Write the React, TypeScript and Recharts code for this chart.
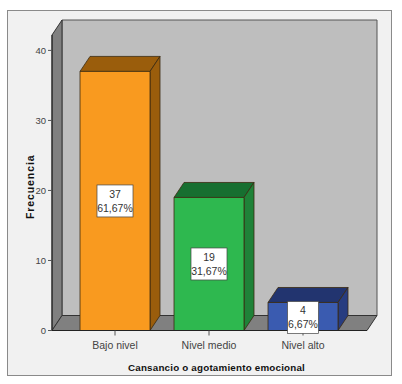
import React from "react";
import { BarChart, Bar, XAxis, YAxis, LabelList, ReferenceArea, Label } from "recharts";

const categories = ["Bajo nivel", "Nivel medio", "Nivel alto"];
const counts = [37, 19, 4];
const percents = ["61,67%", "31,67%", "6,67%"];
const frontColors = ["#f99a1f", "#2eb84f", "#3a5bb0"];
const sideColors = ["#9a5d0c", "#1f8238", "#273c80"];
const topColors = ["#9a5d0c", "#176f30", "#22346f"];
const yTicks = [0, 10, 20, 30, 40];
const yMax = 42.2;

const rows = categories.map((name, i) => ({ name, value: counts[i], percent: percents[i], i }));

const DX = 10;
const DY = -15;
const FONT = "'Liberation Sans', Arial, sans-serif";

const Bar3D = (p: any) => {
  const { x, y, width, height, payload } = p;
  const i = payload.i;
  const r = x + width;
  const b = y + height;
  return (
    <g stroke="#3a2a10" strokeWidth={0.8} strokeLinejoin="round">
      <polygon points={`${x},${y} ${x + DX},${y + DY} ${r + DX},${y + DY} ${r},${y}`} fill={topColors[i]} />
      <polygon points={`${r},${y} ${r + DX},${y + DY} ${r + DX},${b + DY} ${r},${b}`} fill={sideColors[i]} />
      <rect x={x} y={y} width={width} height={height} fill={frontColors[i]} />
    </g>
  );
};

const Walls = (p: any) => {
  const { x, y, width, height } = p;
  const r = x + width;
  const b = y + height;
  return (
    <g stroke="#333" strokeWidth={1} strokeLinejoin="round">
      <polygon points={`${x + DX},${y + DY} ${r + DX},${y + DY} ${r + DX},${b + DY} ${x + DX},${b + DY}`} fill="#bebebe" stroke="#555" />
      <polygon points={`${x},${y} ${x + DX},${y + DY} ${x + DX},${b + DY} ${x},${b}`} fill="#808080" />
      <polygon points={`${x},${b} ${x + DX},${b + DY} ${r + DX},${b + DY} ${r},${b}`} fill="#808080" />
    </g>
  );
};

const BoxLabel = (p: any) => {
  const { x, y, width, height, index } = p;
  const w = index === 2 ? 31 : 36;
  const h = 32;
  const cx = x + width / 2;
  const cy = index === 2 ? y + height / 2 + 1 : y + height / 2;
  return (
    <g fontFamily={FONT} fontSize={10.5} fill="#333" textAnchor="middle">
      <rect x={cx - w / 2} y={cy - h / 2} width={w} height={h} fill="#fff" stroke="#444" strokeWidth={0.7} />
      <text x={cx} y={cy - 3}>{counts[index]}</text>
      <text x={cx} y={cy + 11}>{percents[index]}</text>
    </g>
  );
};

export default function App() {
  return (
    <div style={{ position: "absolute", left: 0, top: 0, width: 402, height: 384, background: "#fff" }}>
      <div
        style={{
          position: "absolute",
          left: 7,
          top: 10,
          width: 383,
          height: 364,
          background: "#f1f1f1",
          border: "1px solid #8a8a8a",
        }}
      />
      <div style={{ position: "absolute", left: 0, top: 0 }}>
        <BarChart
          width={402}
          height={384}
          data={rows}
          margin={{ top: 35, right: 35, bottom: 0, left: 0 }}
          barSize={70}
        >
          <ReferenceArea
            x1="Bajo nivel"
            x2="Nivel alto"
            y1={0}
            y2={yMax}
            ifOverflow="visible"
            shape={(p: any) => <Walls x={52} y={p.y} width={315} height={p.height} />}
          />
          <XAxis
            dataKey="name"
            padding={{ left: 16, right: 17 }}
            tickLine={{ stroke: "#555" }}
            tickSize={5}
            axisLine={{ stroke: "#222" }}
            tick={{ fontFamily: FONT, fontSize: 10.5, fill: "#444", dy: 4 }}
            interval={0}
            height={53.5}
          >
            <Label
              value="Cansancio o agotamiento  emocional"
              position="insideBottom"
              offset={13}
              dx={7}
              style={{ fontFamily: FONT, fontSize: 9.8, fontWeight: 700, fill: "#111", whiteSpace: "pre", letterSpacing: 0.2 }}
            />
          </XAxis>
          <YAxis
            width={52}
            domain={[0, yMax]}
            ticks={yTicks}
            tickSize={4}
            tickLine={{ stroke: "#555" }}
            axisLine={{ stroke: "#222" }}
            tick={{ fontFamily: FONT, fontSize: 9.5, fill: "#444" }}
          >
            <Label
              value="Frecuencia"
              angle={-90}
              position="insideLeft"
              offset={30}
              dy={4}
              style={{ fontFamily: FONT, fontSize: 10.5, fontWeight: 700, fill: "#111", letterSpacing: 0.9, textAnchor: "middle" }}
            />
          </YAxis>
          <Bar dataKey="value" shape={Bar3D} isAnimationActive={false}>
            <LabelList dataKey="value" content={BoxLabel} />
          </Bar>
        </BarChart>
      </div>
    </div>
  );
}
